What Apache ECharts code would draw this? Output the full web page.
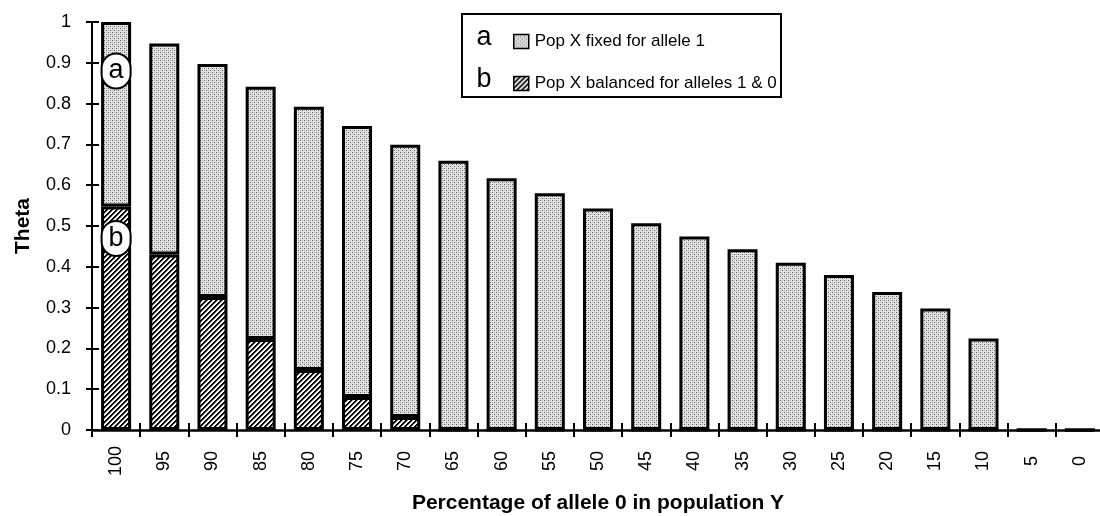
<!DOCTYPE html>
<html>
<head>
<meta charset="utf-8">
<script src="https://cdn.jsdelivr.net/npm/echarts@6/dist/echarts.min.js"></script>
<style>
html,body{margin:0;padding:0;background:#fff;}
#chart{width:1100px;height:516px;}
</style>
</head>
<body>
<div id="chart"></div>
<script>
// ---- data ----
var categories = ['100','95','90','85','80','75','70','65','60','55','50','45','40','35','30','25','20','15','10','5','0'];
// hatched segment: Pop X balanced for alleles 1 & 0
var balancedValues = [0.548,0.43,0.326,0.223,0.147,0.081,0.032,0,0,0,0,0,0,0,0,0,0,0,0,0,0];
// stippled segment: Pop X fixed for allele 1
var fixedValues = [0.452,0.517,0.571,0.618,0.645,0.664,0.667,0.66,0.617,0.58,0.543,0.507,0.474,0.443,0.41,0.38,0.338,0.298,0.224,0,0];
var yTicks = [0,0.1,0.2,0.3,0.4,0.5,0.6,0.7,0.8,0.9,1];
var seriesNames = ['Pop X fixed for allele 1','Pop X balanced for alleles 1 & 0'];

// ---- fill patterns ----
function stipple(){
  var c=document.createElement('canvas'); c.width=4; c.height=4;
  var g=c.getContext('2d');
  g.fillStyle='#e4e4e4'; g.fillRect(0,0,4,4);
  g.fillStyle='#5e5e5e';
  g.fillRect(0,0,1,1); g.fillRect(2,2,1,1);
  g.fillStyle='#b8b8b8';
  g.fillRect(2,0,1,1); g.fillRect(0,2,1,1);
  return c;
}
function hatch(){
  var n=5;
  var c=document.createElement('canvas'); c.width=n; c.height=n;
  var g=c.getContext('2d');
  var img=g.createImageData(n,n);
  for(var y=0;y<n;y++){for(var x=0;x<n;x++){
    var k=(x+y)%n;
    var v = (k<2) ? 0 : (k===2 ? 140 : 255);
    var i=(y*n+x)*4;
    img.data[i]=v;img.data[i+1]=v;img.data[i+2]=v;img.data[i+3]=255;
  }}
  g.putImageData(img,0,0);
  return c;
}
var stipplePattern={image:stipple(),repeat:'repeat'};
var hatchPattern={image:hatch(),repeat:'repeat'};

var FONT='"Liberation Sans", Arial, Helvetica, sans-serif';
var ovalLabel = {
  show:true, position:['50%',0], align:'center', verticalAlign:'middle',
  fontFamily:FONT, fontSize:27, color:'#000',
  backgroundColor:'#fff', borderColor:'#000', borderWidth:2, borderRadius:14,
  width:21, height:31, lineHeight:31, padding:[1,3]
};

var fixedData = fixedValues.map(function(v,i){
  if(i===0){
    return {value:v, label:Object.assign({}, ovalLabel, {formatter:'a', position:['50%',49]})};
  }
  return v;
});
var balancedData = balancedValues.map(function(v,i){
  if(i===0){
    return {value:v, label:Object.assign({}, ovalLabel, {formatter:'b', position:['50%',32]})};
  }
  return v;
});

var chart = echarts.init(document.getElementById('chart'), null, {renderer:'canvas'});
var option = {
  animation:false,
  backgroundColor:'#fff',
  textStyle:{fontFamily:FONT},
  grid:{left:92, top:22, width:1012, height:408, containLabel:false, outerBoundsMode:'none'},
  legend:{
    data:seriesNames,
    orient:'vertical', left:508, top:28, itemGap:25,
    itemWidth:15, itemHeight:14, icon:'rect',
    selectedMode:false,
    textStyle:{fontFamily:FONT, fontSize:17, color:'#000', padding:[0,0,0,1]},
    itemStyle:{borderColor:'#000', borderWidth:1.5}
  },
  xAxis:[{
    type:'category', data:categories, position:'bottom',
    axisLine:{show:true, lineStyle:{color:'#000', width:2.5}},
    axisTick:{show:true, length:7, alignWithLabel:false, lineStyle:{color:'#000', width:2}},
    axisLabel:{rotate:90, margin:31, align:'center', verticalAlign:'middle', fontFamily:FONT, fontSize:18, color:'#000', interval:0},
    name:'Percentage of allele 0 in population Y',
    nameLocation:'middle', nameGap:63,
    nameTextStyle:{fontFamily:FONT, fontSize:21, fontWeight:'bold', color:'#000'}
  },{
    type:'category', data:categories, position:'bottom', offset:0,
    axisLine:{show:false}, axisLabel:{show:false},
    axisTick:{show:true, inside:true, length:7, lineStyle:{color:'#000', width:2}},
    splitLine:{show:false}
  }],
  yAxis:[{
    type:'value', min:0, max:1, interval:0.1, position:'left',
    axisLine:{show:true, lineStyle:{color:'#000', width:2}},
    axisTick:{show:true, length:6, lineStyle:{color:'#000', width:2}},
    axisLabel:{margin:21, fontFamily:FONT, fontSize:18, color:'#000',
      formatter:function(v){ var t=yTicks.filter(function(x){return Math.abs(x-v)<1e-6;}); return t.length? String(t[0]) : ''; }},
    splitLine:{show:false},
    name:'Theta', nameLocation:'middle', nameRotate:90, nameGap:58,
    nameTextStyle:{fontFamily:FONT, fontSize:21, fontWeight:'bold', color:'#000'}
  },{
    type:'value', min:0, max:1, interval:0.1, position:'left', offset:0,
    axisLine:{show:false}, axisLabel:{show:false}, splitLine:{show:false},
    axisTick:{show:true, inside:true, length:7, lineStyle:{color:'#000', width:2}}
  }],
  series:[{
    name:seriesNames[1], type:'bar', stack:'theta', barWidth:30,
    xAxisIndex:0, yAxisIndex:0,
    itemStyle:{color:hatchPattern, borderColor:'#000', borderWidth:3},
    data:balancedData
  },{
    name:seriesNames[0], type:'bar', stack:'theta', barWidth:30,
    xAxisIndex:0, yAxisIndex:0,
    itemStyle:{color:stipplePattern, borderColor:'#000', borderWidth:3},
    data:fixedData
  }],
  graphic:[
    {type:'rect', z:-1, shape:{x:462, y:14, width:319, height:83}, style:{fill:'#fff', stroke:'#000', lineWidth:2}},
    {type:'text', x:484, y:38, style:{text:'a', fontFamily:FONT, fontSize:27, fill:'#000', textAlign:'center', textVerticalAlign:'middle'}},
    {type:'text', x:484, y:80, style:{text:'b', fontFamily:FONT, fontSize:27, fill:'#000', textAlign:'center', textVerticalAlign:'middle'}}
  ]
};
chart.setOption(option);
</script>
</body>
</html>
